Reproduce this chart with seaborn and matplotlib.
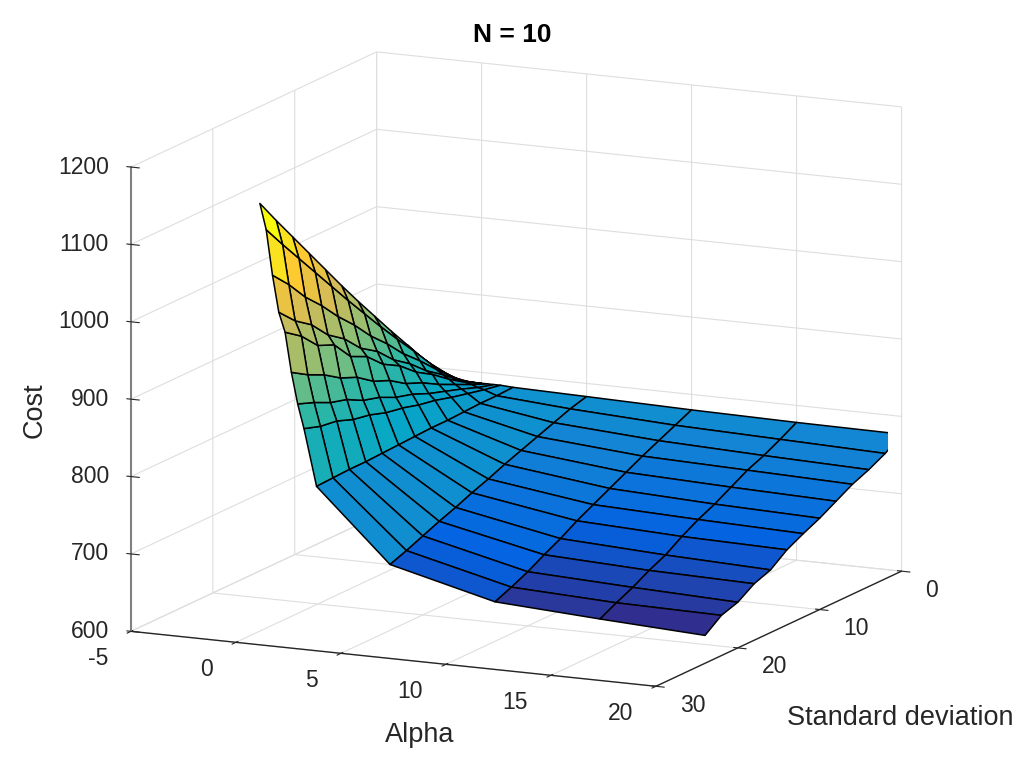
import numpy as np
import matplotlib
matplotlib.use("Agg")
import matplotlib.pyplot as plt
from matplotlib.colors import Normalize
from matplotlib.transforms import ScaledTranslation
import seaborn as sns

# grid of the surface
alpha = [-1.2, -0.9, -0.6, -0.3, 0, 0.3, 0.6, 0.9, 1.5, 5, 10, 15, 20]
sigma = [24, 22, 20, 18, 16, 14, 12, 10, 8, 6, 4, 2, 0]

# cost per standard deviation row
cost_sd24 = [1134, 1101, 1043, 996, 971, 920, 880, 849, 776, 685, 651, 643, 636]
cost_sd22 = [1102, 1072, 1021, 975, 956, 907, 872, 842, 777, 693, 660, 654, 652]
cost_sd20 = [1071, 1044, 995, 960, 934, 897, 862, 839, 778, 702, 670, 664, 659]
cost_sd18 = [1040, 1016, 974, 937, 925, 883, 856, 831, 778, 711, 682, 676, 673]
cost_sd16 = [1009, 988, 950, 922, 900, 874, 845, 827, 779, 719, 693, 686, 681]
cost_sd14 = [978, 960, 929, 900, 890, 859, 839, 820, 780, 728, 706, 700, 697]
cost_sd12 = [948, 933, 905, 886, 870, 850, 829, 816, 781, 736, 717, 712, 708]
cost_sd10 = [919, 906, 885, 865, 858, 836, 823, 810, 782, 745, 728, 722, 718]
cost_sd8 = [890, 880, 862, 850, 840, 827, 814, 806, 782, 753, 739, 734, 730]
cost_sd6 = [862, 855, 843, 831, 827, 815, 807, 800, 783, 761, 750, 746, 742]
cost_sd4 = [834, 829, 822, 816, 811, 805, 800, 795, 784, 769, 760, 755, 751]
cost_sd2 = [809, 806, 802, 799, 797, 795, 792, 790, 784, 777, 770, 766, 762]
cost_sd0 = [786, 786, 786, 786, 786, 786, 786, 786, 785, 783, 780, 778, 777]

alpha_ticks = [-5, 0, 5, 10, 15, 20]
sigma_ticks = [0, 10, 20, 30]
cost_ticks = [600, 700, 800, 900, 1000, 1100, 1200]

sns.set_style("white")
plt.rcParams['font.family'] = ['Liberation Sans', 'DejaVu Sans']
plt.rcParams['axes.unicode_minus'] = False

# parula-like colormap
parula = sns.blend_palette(
    ["#352a87", "#0363e1", "#1485d4", "#06a7c6", "#33b8a1",
     "#8dbf74", "#d3bb58", "#fdc932", "#f9fb0e"], n_colors=64, as_cmap=True)

X, Y = np.meshgrid(alpha, sigma)
Z = np.array([cost_sd24, cost_sd22, cost_sd20, cost_sd18, cost_sd16, cost_sd14, cost_sd12,
              cost_sd10, cost_sd8, cost_sd6, cost_sd4, cost_sd2, cost_sd0])

# flat shading: each face takes the colour of its first vertex
face_cols = parula(Normalize(Z.min(), Z.max())(Z))

fig = plt.figure(figsize=(10.2, 7.65), dpi=100)
ax = fig.add_axes([-0.004, 0.004, 1.0, 1.0], projection='3d')
ax.set_proj_type('ortho')
ax.view_init(elev=12.8, azim=-64.7)

ax.plot_surface(X, Y, Z, facecolors=face_cols, shade=False,
                edgecolor='black', linewidth=1.1, rstride=1, cstride=1,
                antialiased=True)

ax.set_xlim(-5, 20)
ax.set_ylim(30, 0)
ax.set_zlim(600, 1200)
ax.set_box_aspect((1.0, 0.99, 0.82), zoom=1.2)

ax.set_xticks(alpha_ticks)
ax.set_yticks(sigma_ticks)
ax.set_zticks(cost_ticks)
ax.zaxis.set_ticks_position('upper')

grid_col = (0.87, 0.87, 0.87)
text_col = (0.15, 0.15, 0.15)
for axis in (ax.xaxis, ax.yaxis, ax.zaxis):
    axis.set_pane_color((1, 1, 1, 0))
    axis.pane.set_edgecolor(grid_col)
    axis._axinfo['grid'].update(color=grid_col, linewidth=0.8)
    axis._axinfo['axisline']['color'] = text_col
    axis.line.set_color(text_col)
    axis.line.set_linewidth(1.0)
    axis.label.set_visible(False)
    for lbl in axis.get_majorticklabels():
        lbl.set_visible(False)
ax.zaxis.line.set_color((0.5, 0.5, 0.5))
ax.zaxis.line.set_linewidth(1.5)
ax.title.set_visible(False)
ax._left_title.set_visible(False)
ax._right_title.set_visible(False)


def shifted(dx, dy):
    # offset in pixels from the projected tick point
    return ax.transData + ScaledTranslation(dx / 100, dy / 100, fig.dpi_scale_trans)


for a in alpha_ticks:
    ax.text(a, 30, 600, str(a), ha='right', va='center', fontsize=16.5,
            color=text_col, transform=shifted(-23, -27))
for s in sigma_ticks:
    ax.text(20, s, 600, str(s), ha='left', va='center', fontsize=16.5,
            color=text_col, transform=shifted(24, -19))
for c in cost_ticks:
    ax.text(-5, 30, c, str(c), ha='right', va='center', fontsize=16.5,
            color=text_col, transform=shifted(-22, 0))

fig.text(512 / 1020, 1 - 35 / 765, "N = 10", ha='center', va='center',
         fontsize=19, fontweight='bold', color='black')
fig.text(35 / 1020, 1 - 410 / 765, "Cost", rotation=90, ha='center', va='center',
         fontsize=19.5, color=text_col)
fig.text(420 / 1020, 1 - 735 / 765, "Alpha", ha='center', va='center',
         fontsize=19.5, color=text_col)
fig.text(900 / 1020, 1 - 718 / 765, "Standard deviation", ha='center', va='center',
         fontsize=19.5, color=text_col)

fig.savefig("out.png", dpi=100)
